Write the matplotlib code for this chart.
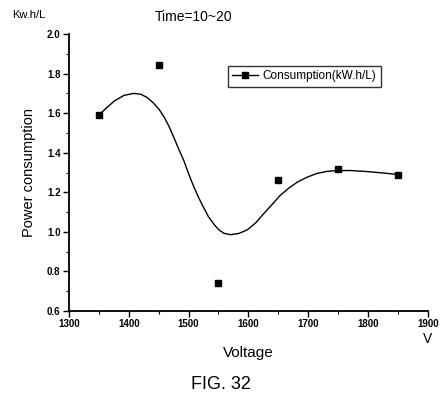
import matplotlib
matplotlib.use("Agg")
import matplotlib.pyplot as plt
from matplotlib.lines import Line2D
from matplotlib.ticker import MultipleLocator

plt.rcParams['font.family'] = ['Liberation Sans', 'DejaVu Sans']

# measured points
voltage = [1350, 1450, 1550, 1650, 1750, 1850]
consumption = [1.59, 1.845, 0.74, 1.26, 1.32, 1.29]

# fitted smooth curve
curve_v = [1350, 1362, 1376, 1392, 1408, 1420, 1431, 1442, 1451, 1459, 1467, 1475,
           1483, 1492, 1500, 1509, 1517, 1525, 1533, 1542, 1550, 1559, 1570, 1584,
           1598, 1612, 1625, 1640, 1653, 1667, 1681, 1697, 1714, 1730, 1747, 1772,
           1798, 1824, 1850]
curve_c = [1.59, 1.625, 1.662, 1.69, 1.70, 1.696, 1.679, 1.649, 1.618, 1.581, 1.535, 1.48,
           1.422, 1.361, 1.294, 1.226, 1.172, 1.124, 1.078, 1.04, 1.012, 0.993, 0.986, 0.992,
           1.01, 1.045, 1.09, 1.14, 1.184, 1.22, 1.25, 1.275, 1.295, 1.305, 1.31, 1.31,
           1.305, 1.298, 1.29]

xticks = [1300, 1400, 1500, 1600, 1700, 1800, 1900]
yticks = [0.6, 0.8, 1.0, 1.2, 1.4, 1.6, 1.8, 2.0]

fig = plt.figure(figsize=(4.42, 3.96), dpi=100)
ax = fig.add_axes([0.156, 0.2146, 0.812, 0.6994])

ax.plot(curve_v, curve_c, color='black', lw=1.0)
ax.plot(voltage, consumption, 's', color='black', ms=4, ls='none')

ax.set_xlim(1300, 1900)
ax.set_ylim(0.6, 2.0)
ax.set_xticks(xticks)
ax.set_yticks(yticks)
ax.set_xticklabels([str(v) for v in xticks], fontsize=7, fontweight='bold')
ax.set_yticklabels([f"{v:.1f}" for v in yticks], fontsize=7, fontweight='bold')
ax.xaxis.set_minor_locator(MultipleLocator(50))
ax.yaxis.set_minor_locator(MultipleLocator(0.1))
ax.tick_params(axis='both', which='major', direction='out', length=4, width=1, pad=2)
ax.tick_params(axis='both', which='minor', direction='out', length=2, width=0.8)

for s in ['top', 'right']:
    ax.spines[s].set_visible(False)
for s in ['left', 'bottom']:
    ax.spines[s].set_linewidth(1.3)

ax.set_ylabel('Power consumption', fontsize=10.5, labelpad=8)
ax.set_xlabel('Voltage', fontsize=11, labelpad=12)

handle = Line2D([0], [0], color='black', marker='s', ms=4, lw=1.0)
leg = ax.legend([handle], ['Consumption(kW.h/L)'], loc='upper right',
                bbox_to_anchor=(0.885, 0.905), fontsize=8.5, frameon=True,
                fancybox=False, edgecolor='black', handlelength=2.2,
                borderpad=0.35, handletextpad=0.4)
leg.get_frame().set_linewidth(1.0)

fig.text(0.027, 0.962, 'Kw.h/L', fontsize=8, va='center', ha='left')
fig.text(0.35, 0.957, 'Time=10~20', fontsize=10, va='center', ha='left')
fig.text(0.968, 0.145, 'V', fontsize=10, va='center', ha='center')
fig.text(0.5, 0.028, 'FIG. 32', fontsize=13, va='center', ha='center')

fig.savefig('out.png', dpi=100)
